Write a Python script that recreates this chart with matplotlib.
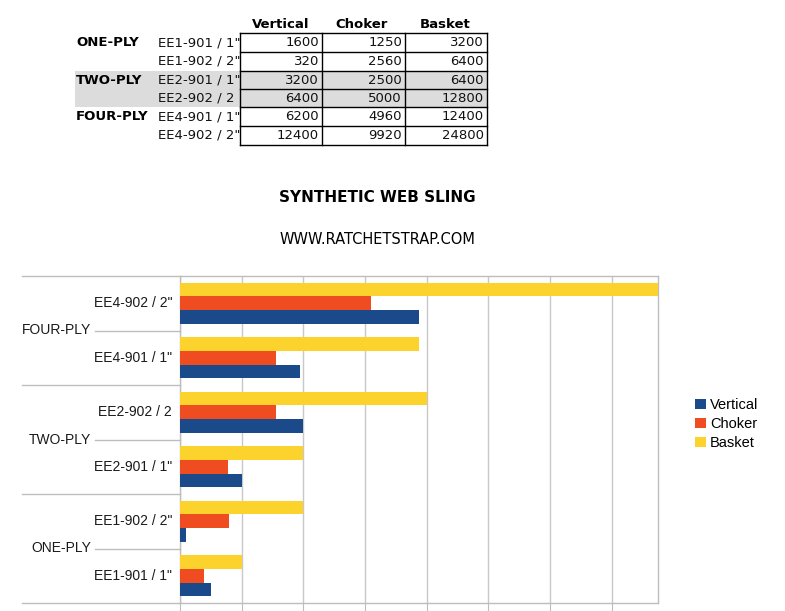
import matplotlib
matplotlib.use("Agg")
import matplotlib.pyplot as plt
import matplotlib.transforms as mtransforms
from matplotlib.patches import Rectangle
from matplotlib.lines import Line2D
import numpy as np

# ---------------- data ----------------
groups = ["ONE-PLY", "TWO-PLY", "FOUR-PLY"]
models = ["EE1-901 / 1\"", "EE1-902 / 2\"", "EE2-901 / 1\"", "EE2-902 / 2", "EE4-901 / 1\"", "EE4-902 / 2\""]
table_models = ["EE1-901 / 1\"", "EE1-902 / 2\"", "EE2-901 / 1\"", "EE2-902 / 2", "EE4-901 / 1\"", "EE4-902 / 2\""]
series = ["Vertical", "Choker", "Basket"]
vertical = [1600, 320, 3200, 6400, 6200, 12400]
choker = [1250, 2560, 2500, 5000, 4960, 9920]
basket = [3200, 6400, 6400, 12800, 12400, 24800]
colors = ["#1b4a8a", "#f04c22", "#fcd32c"]
title = "SYNTHETIC WEB SLING"
subtitle = "WWW.RATCHETSTRAP.COM"

W, H = 785, 611
fig = plt.figure(figsize=(W / 100, H / 100), dpi=100)

def fx(px):
    return px / W

def fy(py):
    return 1 - py / H

chart_font = ["Liberation Sans", "DejaVu Sans"]

# ---------------- table ----------------
tbl_font = "DejaVu Sans"
col_edges = [240, 322, 405, 487]
row_edges = [33, 52, 71, 89, 107, 126, 145]
fig.add_artist(Rectangle((fx(75), fy(107)), fx(487) - fx(75), fy(71) - fy(107),
                         transform=fig.transFigure, facecolor="#dcdcdc", edgecolor="none", zorder=0))
for yy in row_edges:
    fig.add_artist(Line2D([fx(240), fx(487)], [fy(yy), fy(yy)], transform=fig.transFigure,
                          color="black", lw=1.0))
for xx in col_edges:
    fig.add_artist(Line2D([fx(xx), fx(xx)], [fy(33), fy(145)], transform=fig.transFigure,
                          color="black", lw=1.0))
hdr_x = [281, 362, 445]
for name, hx in zip(series, hdr_x):
    fig.text(fx(hx), fy(24), name, ha="center", va="center", fontsize=9.5,
             fontweight="bold", family=tbl_font)
cols = [vertical, choker, basket]
for r in range(6):
    yc = (row_edges[r] + row_edges[r + 1]) / 2
    fig.text(fx(158), fy(yc), table_models[r], ha="left", va="center", fontsize=9.5,
             family=tbl_font, color="#111111")
    for c in range(3):
        fig.text(fx(col_edges[c + 1] - 3), fy(yc), f"{cols[c][r]}", ha="right", va="center",
                 fontsize=9.5, family=tbl_font, color="#111111")
for g, grp in enumerate(groups):
    yc = (row_edges[2 * g] + row_edges[2 * g + 1]) / 2
    fig.text(fx(76), fy(yc), grp, ha="left", va="center", fontsize=9.5,
             fontweight="bold", family=tbl_font)

# ---------------- titles ----------------
fig.text(fx(377), fy(198), title, ha="center", va="center", fontsize=11,
         fontweight="bold", family="DejaVu Sans")
fig.text(fx(377), fy(240), subtitle, ha="center", va="center", fontsize=10.5,
         family="DejaVu Sans")

# ---------------- chart ----------------
ax = fig.add_axes([fx(180), fy(603), fx(658) - fx(180), fy(276) - fy(603)])
y = np.arange(len(models))
bh = 0.248
offs = [-bh, 0, bh]
for vals, off, col, name in zip(cols, offs, colors, series):
    ax.barh(y + off, vals, height=bh, color=col, label=name, zorder=3)

ax.set_xlim(0, 24800)
ax.set_ylim(-0.5, len(models) - 0.5)
ax.set_xticks(np.arange(0, 24800, 3200))
ax.tick_params(axis="x", direction="out", length=9, color="#bdbdbd", labelbottom=False)
ax.set_yticks([])
ax.grid(axis="x", color="#c8c8c8", lw=1.0, zorder=0)
for s in ax.spines.values():
    s.set_color("#bdbdbd")
    s.set_linewidth(1.0)

trans = mtransforms.blended_transform_factory(ax.transAxes, ax.transData)
def ax_x(px):
    return (px - 180) / (658 - 180)

for i, m in enumerate(models):
    ax.text(ax_x(172), i, m, transform=trans, ha="right", va="center", fontsize=10,
            family=chart_font, color="#1a1a1a")
for g, grp in enumerate(groups):
    yc = 2 * g + 0.5
    ax.text(ax_x(91), yc, grp, transform=trans, ha="right", va="center", fontsize=10,
            family=chart_font, color="#1a1a1a")
    ax.plot([ax_x(95), 0], [yc, yc], transform=trans, color="#bdbdbd", lw=1.0, clip_on=False)
for b in [-0.5, 1.5, 3.5, 5.5]:
    ax.plot([ax_x(22), 0], [b, b], transform=trans, color="#bdbdbd", lw=1.0, clip_on=False)

leg = fig.legend(*ax.get_legend_handles_labels(), loc="center left",
                 bbox_to_anchor=(fx(688), fy(424)), frameon=False,
                 prop={"family": chart_font, "size": 10.5}, handlelength=0.7,
                 handleheight=0.7, handletextpad=0.3, labelspacing=0.35, borderpad=0)

fig.savefig("out.png", dpi=100)
